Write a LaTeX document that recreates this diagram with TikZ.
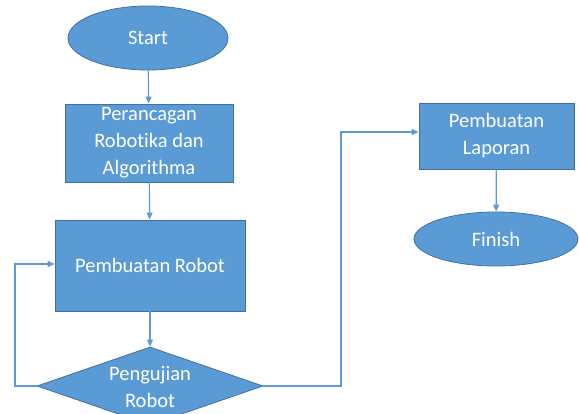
\documentclass[tikz,border=0pt]{standalone}
\usepackage{fontspec}
\setmainfont{Carlito}[Ligatures={NoCommon}]
\usetikzlibrary{shapes.geometric,arrows.meta}
\definecolor{fillblue}{HTML}{5B9BD5}
\definecolor{edgeblue}{HTML}{41719C}
\definecolor{lineblue}{HTML}{5B9BD5}
\begin{document}
\begin{tikzpicture}[x=1pt,y=-1pt,
  every node/.style={font=\fontsize{20.5}{27}\selectfont, text=white, align=center, inner sep=0pt},
  term/.style={ellipse, fill=fillblue, draw=edgeblue, line width=0.8pt},
  procbox/.style={rectangle, fill=fillblue, draw=edgeblue, line width=0.8pt},
  decis/.style={diamond, fill=fillblue, draw=edgeblue, line width=0.8pt},
  conn/.style={draw=lineblue, line width=1.2pt, -{Triangle[length=7pt,width=6pt]}},
]
\path[use as bounding box, clip] (0,0) rectangle (579,414);
\fill[white] (0,0) rectangle (579,414);
\node[term, minimum width=160pt, minimum height=64pt] (start) at (148,38) {Start};
\node[procbox, minimum width=168pt, minimum height=78pt] (design) at (149,143) {Perancagan\\Robotika dan\\Algorithma};
\node[procbox, minimum width=190pt, minimum height=91pt] (build) at (150,265.5) {Pembuatan Robot};
\node[decis, minimum width=226pt, minimum height=78pt] (test) at (150,386) {};
\node (testtext) at (150,387) {Pengujian\\Robot};
\node[procbox, minimum width=155pt, minimum height=66pt] (report) at (496.5,136) {Pembuatan\\Laporan};
\node[term, minimum width=164pt, minimum height=54pt] (finish) at (496,239) {Finish};
\coordinate (loopL) at (15,386);
\coordinate (loopT) at (15,264);
\coordinate (rightB) at (341,386);
\coordinate (rightT) at (341,132);
\draw[conn] (start) -- (design);
\draw[conn] (design) -- (build);
\draw[conn] (build) -- (test);
\draw[conn] (test.west) -- (loopL) -- (loopT) -- (build.west |- loopT);
\draw[conn] (test.east) -- (rightB) -- (rightT) -- (report.west |- rightT);
\draw[conn] (report) -- (finish);
\end{tikzpicture}
\end{document}
